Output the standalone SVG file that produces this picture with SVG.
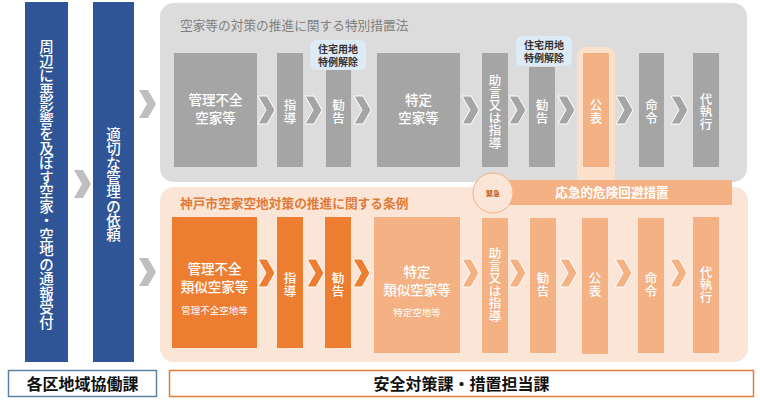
<svg xmlns="http://www.w3.org/2000/svg" xmlns:xlink="http://www.w3.org/1999/xlink" width="760" height="402" viewBox="0 0 760 402">
<defs>
<style>
text{font-family:"Noto Sans CJK JP","Noto Sans",sans-serif;}
.blue{fill:#2F5597;}
.g{fill:#A5A5A5;}
.o{fill:#ED7D31;}
.lo{fill:#F4B183;}
.col{font-size:14.5px;font-weight:500;fill:#fff;text-anchor:middle;}
.n14{font-size:13.5px;font-weight:500;text-anchor:middle;fill:#fff;}
.v13{font-size:12.5px;font-weight:500;fill:#fff;text-anchor:middle;}
.sm{font-size:9.5px;fill:#fff;text-anchor:middle;}
.badge{fill:#DDEBF7;}
.bt{font-size:10px;font-weight:700;fill:#333;text-anchor:middle;}
.chg{fill:#A5A5A5;stroke:#fff;stroke-width:1;}
.cho{fill:#ED7D31;stroke:#fff;stroke-width:1;}
.chl{fill:#F4B183;stroke:#fff;stroke-width:1;}
.chb{fill:#BFBFBF;}
</style>
<path id="chev" d="M0,0 H9 L17,14 L9,28 H0 L8,14 Z"/>
</defs>

<!-- blue columns -->
<g id="col-report">
<rect x="25" y="2" width="43" height="360" class="blue"/>
<text class="col"><tspan x="46.5" y="52.4">周</tspan><tspan x="46.5" y="66.9">辺</tspan><tspan x="46.5" y="81.4">に</tspan><tspan x="46.5" y="95.9">悪</tspan><tspan x="46.5" y="110.4">影</tspan><tspan x="46.5" y="124.9">響</tspan><tspan x="46.5" y="139.4">を</tspan><tspan x="46.5" y="153.9">及</tspan><tspan x="46.5" y="168.4">ぼ</tspan><tspan x="46.5" y="182.9">す</tspan><tspan x="46.5" y="197.4">空</tspan><tspan x="46.5" y="211.9">家</tspan><tspan x="46.5" y="226.4">・</tspan><tspan x="46.5" y="240.9">空</tspan><tspan x="46.5" y="255.4">地</tspan><tspan x="46.5" y="269.9">の</tspan><tspan x="46.5" y="284.4">通</tspan><tspan x="46.5" y="298.9">報</tspan><tspan x="46.5" y="313.4">受</tspan><tspan x="46.5" y="327.9">付</tspan></text>
</g>
<g id="col-request">
<rect x="93" y="2" width="41" height="360" class="blue"/>
<text class="col"><tspan x="113.5" y="140.1">適</tspan><tspan x="113.5" y="154.4">切</tspan><tspan x="113.5" y="168.7">な</tspan><tspan x="113.5" y="183">管</tspan><tspan x="113.5" y="197.3">理</tspan><tspan x="113.5" y="211.6">の</tspan><tspan x="113.5" y="225.9">依</tspan><tspan x="113.5" y="240.2">頼</tspan></text>
</g>

<!-- panels -->
<g id="panel-law">
<rect x="160" y="3" width="587" height="179" rx="14" fill="#DCDCDC"/>
<text x="180" y="30" font-size="12.7" fill="#808080">空家等の対策の推進に関する特別措置法</text>
</g>
<g id="panel-ordinance">
<rect x="160" y="187" width="588" height="175" rx="14" fill="#FBE5D6"/>
<text x="180" y="208" font-size="12.7" font-weight="700" fill="#E07B39">神戸市空家空地対策の推進に関する条例</text>
</g>

<!-- top row nodes -->
<g id="t-kanri">
<rect x="174" y="53" width="83" height="114" class="g"/>
<text x="215.5" y="105" class="n14">管理不全</text>
<text x="215.5" y="123" class="n14">空家等</text>
</g>
<g id="t-shido">
<rect x="277" y="53" width="26" height="114" class="g"/>
<text class="v13"><tspan x="290" y="110.2">指</tspan><tspan x="290" y="122.7">導</tspan></text>
</g>
<g id="t-kankoku">
<rect x="326" y="70" width="25" height="97" class="g"/>
<text class="v13"><tspan x="338.5" y="110.2">勧</tspan><tspan x="338.5" y="122.7">告</tspan></text>
</g>
<g id="t-badge1">
<rect x="310" y="40" width="56" height="30" rx="6" class="badge"/>
<text x="338" y="53" class="bt">住宅用地</text>
<text x="338" y="66" class="bt">特例解除</text>
</g>
<g id="t-tokutei">
<rect x="377" y="53" width="83" height="114" class="g"/>
<text x="418.5" y="105" class="n14">特定</text>
<text x="418.5" y="123" class="n14">空家等</text>
</g>
<g id="t-jogen">
<rect x="482" y="53" width="26" height="114" class="g"/>
<text class="v13"><tspan x="495" y="85.2">助</tspan><tspan x="495" y="97.7">言</tspan><tspan x="495" y="110.2">又</tspan><tspan x="495" y="122.7">は</tspan><tspan x="495" y="135.2">指</tspan><tspan x="495" y="147.7">導</tspan></text>
</g>
<g id="t-kankoku2">
<rect x="529" y="67" width="26" height="100" class="g"/>
<text class="v13"><tspan x="542" y="110.2">勧</tspan><tspan x="542" y="122.7">告</tspan></text>
</g>
<g id="t-badge2">
<rect x="516" y="36" width="56" height="30" rx="6" class="badge"/>
<text x="544" y="49" class="bt">住宅用地</text>
<text x="544" y="62" class="bt">特例解除</text>
</g>
<g id="t-kohyo">
<rect x="577" y="47" width="38" height="145" rx="9" fill="#FBE0CC"/>
<rect x="583" y="53" width="26" height="114" class="lo"/>
<text class="v13"><tspan x="596" y="110.2">公</tspan><tspan x="596" y="122.7">表</tspan></text>
</g>
<g id="t-meirei">
<rect x="639" y="53" width="25" height="114" class="g"/>
<text class="v13"><tspan x="651.5" y="110.2">命</tspan><tspan x="651.5" y="122.7">令</tspan></text>
</g>
<g id="t-daishikko">
<rect x="693" y="53" width="26" height="114" class="g"/>
<text class="v13"><tspan x="706" y="103.9">代</tspan><tspan x="706" y="116.4">執</tspan><tspan x="706" y="128.9">行</tspan></text>
</g>

<!-- emergency -->
<g id="emergency">
<rect x="505" y="180" width="227" height="25" class="lo"/>
<circle cx="493" cy="193" r="20" fill="#FBE5D6" stroke="#F4B183" stroke-width="1"/>
<text x="493" y="195.5" font-size="7" font-weight="700" fill="#C55A11" text-anchor="middle">緊急</text>
<text x="612" y="197" font-size="12.6" font-weight="700" fill="#fff" text-anchor="middle">応急的危険回避措置</text>
</g>

<!-- bottom row nodes -->
<g id="b-kanri">
<rect x="172" y="217" width="85" height="131" class="o"/>
<text x="214.5" y="274" class="n14">管理不全</text>
<text x="214.5" y="292" class="n14">類似空家等</text>
<text x="214.5" y="314" class="sm">管理不全空地等</text>
</g>
<g id="b-shido">
<rect x="277" y="217" width="26" height="131" class="o"/>
<text class="v13"><tspan x="290" y="283.2">指</tspan><tspan x="290" y="295.7">導</tspan></text>
</g>
<g id="b-kankoku">
<rect x="325" y="217" width="26" height="131" class="o"/>
<text class="v13"><tspan x="338" y="283.2">勧</tspan><tspan x="338" y="295.7">告</tspan></text>
</g>
<g id="b-tokutei">
<rect x="374" y="217" width="86" height="136" class="lo"/>
<text x="417" y="277" class="n14">特定</text>
<text x="417" y="295" class="n14">類似空家等</text>
<text x="417" y="316" class="sm">特定空地等</text>
</g>
<g id="b-jogen">
<rect x="482" y="218" width="26" height="135" class="lo"/>
<text class="v13"><tspan x="495" y="258.2">助</tspan><tspan x="495" y="270.7">言</tspan><tspan x="495" y="283.2">又</tspan><tspan x="495" y="295.7">は</tspan><tspan x="495" y="308.2">指</tspan><tspan x="495" y="320.7">導</tspan></text>
</g>
<g id="b-kankoku2">
<rect x="530" y="218" width="26" height="135" class="lo"/>
<text class="v13"><tspan x="543" y="283.2">勧</tspan><tspan x="543" y="295.7">告</tspan></text>
</g>
<g id="b-kohyo">
<rect x="582" y="218" width="26" height="136" class="lo"/>
<text class="v13"><tspan x="595" y="283.2">公</tspan><tspan x="595" y="295.7">表</tspan></text>
</g>
<g id="b-meirei">
<rect x="638" y="218" width="26" height="135" class="lo"/>
<text class="v13"><tspan x="651" y="283.2">命</tspan><tspan x="651" y="295.7">令</tspan></text>
</g>
<g id="b-daishikko">
<rect x="693" y="217" width="26" height="136" class="lo"/>
<text class="v13"><tspan x="706" y="276.9">代</tspan><tspan x="706" y="289.4">執</tspan><tspan x="706" y="301.9">行</tspan></text>
</g>

<!-- departments -->
<g id="dept-ward">
<rect x="8.5" y="370.5" width="148" height="26" fill="#fff" stroke="#5B82A6" stroke-width="1.5"/>
<text x="82.5" y="390" font-size="16" font-weight="700" fill="#111" text-anchor="middle">各区地域協働課</text>
</g>
<g id="dept-safety">
<rect x="169.5" y="370.5" width="584" height="26" fill="#fff" stroke="#E07B39" stroke-width="1.5"/>
<text x="461.5" y="390" font-size="16" font-weight="700" fill="#111" text-anchor="middle">安全対策課・措置担当課</text>
</g>

<!-- connectors -->
<g id="connectors">
<use xlink:href="#chev" class="chb" x="74" y="170"/>
<use xlink:href="#chev" class="chb" x="139" y="90"/>
<use xlink:href="#chev" class="chb" x="139" y="258"/>
<use xlink:href="#chev" class="chg" x="258" y="96"/>
<use xlink:href="#chev" class="chg" x="305" y="96"/>
<use xlink:href="#chev" class="chg" x="354" y="96"/>
<use xlink:href="#chev" class="chg" x="462" y="96"/>
<use xlink:href="#chev" class="chg" x="509" y="96"/>
<use xlink:href="#chev" class="chg" x="558" y="96"/>
<use xlink:href="#chev" class="chg" x="616" y="96"/>
<use xlink:href="#chev" class="chg" x="671" y="96"/>
<use xlink:href="#chev" class="cho" x="258" y="259"/>
<use xlink:href="#chev" class="cho" x="307" y="259"/>
<use xlink:href="#chev" class="cho" x="353" y="259"/>
<use xlink:href="#chev" class="chl" x="462" y="259"/>
<use xlink:href="#chev" class="chl" x="509" y="259"/>
<use xlink:href="#chev" class="chl" x="560" y="259"/>
<use xlink:href="#chev" class="chl" x="615" y="259"/>
<use xlink:href="#chev" class="chl" x="670" y="259"/>
</g>
</svg>
